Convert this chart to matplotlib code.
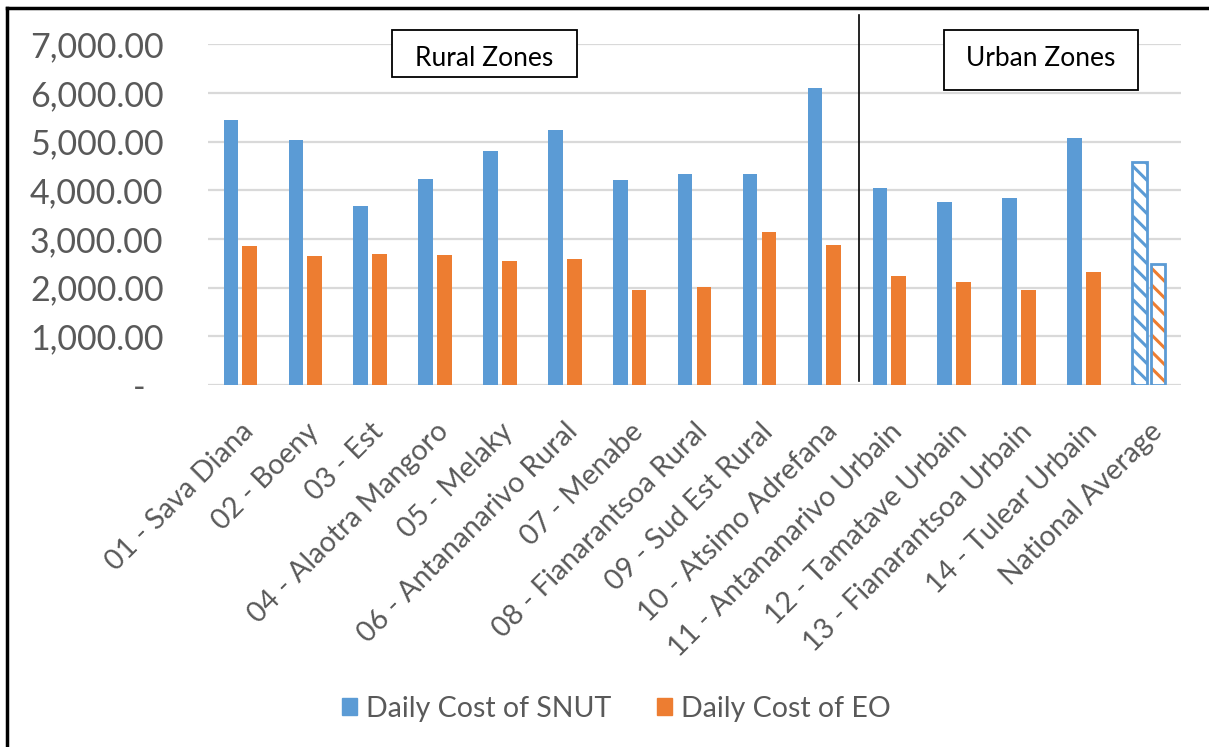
import numpy as np
import matplotlib
matplotlib.use('Agg')
import matplotlib.pyplot as plt
from matplotlib.ticker import FuncFormatter
from matplotlib.lines import Line2D
from matplotlib.patches import Rectangle

regions = ['01 - Sava Diana', '02 - Boeny', '03 - Est', '04 - Alaotra Mangoro',
           '05 - Melaky', '06 - Antananarivo Rural', '07 - Menabe',
           '08 - Fianarantsoa Rural', '09 - Sud Est Rural', '10 - Atsimo Adrefana',
           '11 - Antananarivo Urbain', '12 - Tamatave Urbain',
           '13 - Fianarantsoa Urbain', '14 - Tulear Urbain', 'National Average']
snut_cost = [5441, 5029, 3673, 4234, 4810, 5241, 4214, 4337, 4337, 6098,
             4043, 3768, 3850, 5084, 4590]
eo_cost = [2851, 2652, 2699, 2672, 2549, 2590, 1953, 2014, 3145, 2871,
           2234, 2124, 1953, 2323, 2481]
n_rural = 10

blue = '#5B9BD5'
orange = '#ED7D31'
grey = '#595959'

plt.rcParams['font.family'] = ['Lato', 'DejaVu Sans']
plt.rcParams['hatch.linewidth'] = 2.2

W, H = 1209, 747
fig = plt.figure(figsize=(W / 100, H / 100), dpi=100)
ax = fig.add_axes([0.172, 0.4846, 0.805, 0.456])

x = np.arange(len(regions))
w = 0.225
off = 0.145

# regular regions: solid bars
ax.bar(x[:-1] - off, snut_cost[:-1], w, color=blue, zorder=3)
ax.bar(x[:-1] + off, eo_cost[:-1], w, color=orange, zorder=3)

# national average: hatched bars with blue outline
ax.bar(x[-1] - off, snut_cost[-1], w, color='white', edgecolor=blue,
       hatch='\\\\', linewidth=0, zorder=3)
ax.bar(x[-1] + off, eo_cost[-1], w, color='white', edgecolor=orange,
       hatch='\\\\', linewidth=0, zorder=3)
ax.bar(x[-1] - off, snut_cost[-1], w, fill=False, edgecolor=blue, linewidth=2, zorder=4)
ax.bar(x[-1] + off, eo_cost[-1], w, fill=False, edgecolor=blue, linewidth=2, zorder=4)

ax.set_xlim(-0.5, len(regions) - 0.5)
ax.set_ylim(0, 7000)
ax.set_yticks(np.arange(0, 7001, 1000))
ax.yaxis.set_major_formatter(FuncFormatter(
    lambda v, p: '-  ' if v == 0 else '{:,.2f}'.format(v)))
ax.yaxis.grid(True, color='#D9D9D9', linewidth=1.6, zorder=0)
ax.set_axisbelow(True)
for s in ax.spines.values():
    s.set_visible(False)
ax.tick_params(axis='both', length=0, colors=grey)
ax.tick_params(axis='y', labelsize=24.5, pad=32)
ax.set_xticks(x)
ax.set_xticklabels(regions, rotation=45, ha='right', rotation_mode='anchor',
                   fontsize=20.5, color=grey)
ax.tick_params(axis='x', pad=24)

# split between rural and urban zones
ax.axvline(n_rural - 0.5 + 0.04, ymin=0.012, ymax=1.086, color='black',
           linewidth=1.2, clip_on=False, zorder=5)


def zone_box(x0, y0, x1, y1, label):
    # box given in pixels from the top-left corner of the figure
    fig.add_artist(Rectangle((x0 / W, 1 - y1 / H), (x1 - x0) / W, (y1 - y0) / H,
                             transform=fig.transFigure, facecolor='white',
                             edgecolor='black', linewidth=1.3, zorder=6))
    fig.text((x0 + x1) / 2 / W, 1 - 59 / H, label, ha='center', va='center',
             fontsize=19, color='black', zorder=7)


zone_box(392, 30, 577, 77, 'Rural Zones')
zone_box(944, 30, 1138, 90, 'Urban Zones')

handles = [plt.Rectangle((0, 0), 1, 1, color=blue),
           plt.Rectangle((0, 0), 1, 1, color=orange)]
leg = fig.legend(handles, ['Daily Cost of SNUT', 'Daily Cost of EO'],
                 loc='center', bbox_to_anchor=(0.5095, 0.051), ncol=2,
                 frameon=False, fontsize=20.5, handlelength=0.55, handleheight=0.55,
                 handletextpad=0.3, columnspacing=1.6)
for t in leg.get_texts():
    t.set_color(grey)

# outer frame (left and top edges only)
fig.add_artist(Line2D([0.0062, 0.0062], [0, 0.989], color='black', linewidth=2.5))
fig.add_artist(Line2D([0.0062, 1.0], [0.989, 0.989], color='black', linewidth=2.5))

fig.savefig('out.png', dpi=100)
